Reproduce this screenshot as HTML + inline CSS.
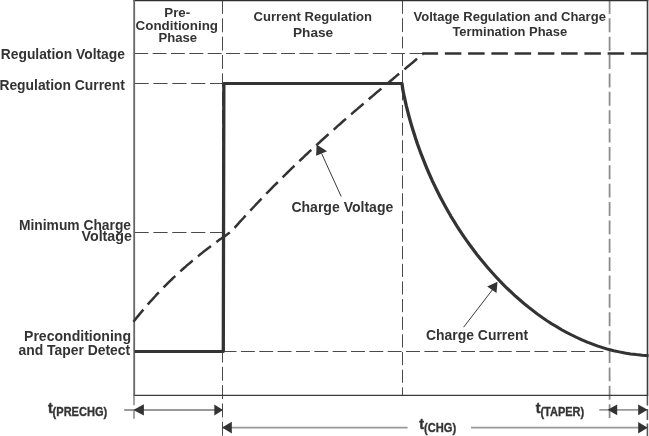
<!DOCTYPE html>
<html>
<head>
<meta charset="utf-8">
<title>Charge Profile</title>
<style>
html,body{margin:0;padding:0;background:#fff;}
body{width:649px;height:436px;overflow:hidden;}
svg{display:block;will-change:transform;transform:translateZ(0);}
text{font-family:"Liberation Sans",sans-serif;font-weight:bold;fill:#333;}
</style>
</head>
<body>
<svg width="649" height="436" viewBox="0 0 649 436">
<rect width="649" height="436" fill="#fff"/>

<!-- thin dashed guides -->
<g stroke="#4a4a4a" stroke-width="1" fill="none">
  <path d="M134.3 53.5H422" stroke-dasharray="13.9 4.45"/>
  <path d="M134.5 83.5H222.4" stroke-dasharray="14.2 4.67"/>
  <path d="M134.5 232.5H222.4" stroke-dasharray="14.2 4.67"/>
  <path d="M222.6 351.5H603.4" stroke-dasharray="13.9 4.445"/>
  <path d="M222.5 0V436" stroke-dasharray="13.9 4.44"/>
  <path d="M402.5 0V48.4" stroke-dasharray="13.8 4.5"/>
  <path d="M402.5 53.2V83" stroke-dasharray="12.9 4"/>
  <path d="M402.5 87.3V395" stroke-dasharray="13.1 4.55"/>
</g>
<path d="M609.6 0V421.5" stroke="#8c8c8c" stroke-width="1.8" fill="none" stroke-dasharray="13.9 4.47"/>

<!-- frame -->
<path d="M133.3 0.4H648.3" stroke="#2e2e2e" stroke-width="1.6" fill="none"/>
<path d="M133.4 395.4H648.2" stroke="#3a3a3a" stroke-width="1.4" fill="none"/>
<path d="M134.2 0V395.8" stroke="#666" stroke-width="1.8" fill="none"/>
<path d="M647.5 0V395.8" stroke="#3c3c3c" stroke-width="1.6" fill="none"/>
<path d="M134 396V405.2M134 411V418.7" stroke="#a0a0a0" stroke-width="1.9" fill="none"/>
<path d="M647.4 396V405.6M647.4 409V420M647.4 423.5V436" stroke="#555" stroke-width="1.5" fill="none"/>

<!-- dimension arrows -->
<g stroke="#999" stroke-width="1.8" fill="none">
  <path d="M124.2 410H222"/>
  <path d="M223 427.7H407.6M470.9 427.7H647"/>
  <path d="M599.3 409.8H647"/>
</g>
<g fill="#333">
  <path d="M133.3 410L143.9 404.3V415.6Z"/>
  <path d="M223 409.9L214.3 404.4V415.4Z"/>
  <path d="M222.1 427.6L231.8 421.8V433.4Z"/>
  <path d="M647.6 427.8L638.2 422V433.5Z"/>
  <path d="M607.6 409.8L617.2 404.4V415.3Z"/>
  <path d="M647.6 409.8L638.2 404.4V415.3Z"/>
</g>

<!-- charge voltage (thick dashed) -->
<path id="cv" d="M133.4 321.8L135.1 319.7 136.7 317.6 138.4 315.6 140.0 313.6 141.7 311.6 143.4 309.6 145.0 307.6 146.7 305.7 148.3 303.8 150.0 301.9 151.7 300.1 153.3 298.3 155.0 296.5 156.6 294.7 158.3 292.9 160.0 291.2 161.6 289.4 163.3 287.7 164.9 286.1 166.6 284.4 168.3 282.7 169.9 281.1 171.6 279.5 173.2 277.9 174.9 276.4 176.6 274.8 178.2 273.3 179.9 271.8 181.5 270.3 183.2 268.8 184.9 267.3 186.5 265.8 188.2 264.4 189.9 263.0 191.5 261.6 193.2 260.2 194.8 258.8 196.5 257.5 198.2 256.1 199.8 254.8 201.5 253.4 203.1 252.1 204.8 250.8 206.5 249.5 208.1 248.3 209.8 247.0 211.4 245.7 213.1 244.5 214.8 243.3 216.4 242.0 218.1 240.8 219.7 239.6 221.4 238.4 223.1 237.2 224.7 236.1 226.4 234.9 228.0 233.7 229.7 232.6 231.4 231.4 233.3 229.2 235.2 227.1 237.2 224.9 239.1 222.7 241.0 220.6 243.0 218.5 244.9 216.4 246.8 214.3 248.8 212.2 250.7 210.1 252.7 208.0 254.6 206.0 256.5 203.9 258.5 201.9 260.4 199.8 262.3 197.8 264.3 195.8 266.2 193.8 268.1 191.8 270.1 189.9 272.0 187.9 273.9 185.9 275.9 184.0 277.8 182.1 279.8 180.1 281.7 178.2 283.6 176.3 285.6 174.4 287.5 172.5 289.4 170.6 291.4 168.7 293.3 166.9 295.2 165.0 297.2 163.2 299.1 161.3 301.0 159.5 303.0 157.7 304.9 155.8 306.9 154.0 308.8 152.2 310.7 150.4 312.7 148.6 314.6 146.9 316.5 145.1 318.5 143.3 320.4 141.5 322.3 139.8 324.3 138.0 326.2 136.3 328.1 134.5 330.1 132.8 332.0 131.1 334.0 129.4 335.9 127.7 337.8 125.9 339.8 124.2 341.7 122.5 343.6 120.8 345.6 119.1 347.5 117.5 349.4 115.8 351.4 114.1 353.3 112.4 355.2 110.8 357.2 109.1 359.1 107.4 361.1 105.8 363.0 104.1 364.9 102.5 366.9 100.8 368.8 99.2 370.7 97.5 372.7 95.9 374.6 94.3 376.5 92.6 378.5 91.0 380.4 89.4 382.3 87.8 384.3 86.1 386.2 84.5 388.2 82.9 390.1 81.3 392.0 79.7 394.0 78.0 395.9 76.4 397.8 74.8 399.8 73.2 401.7 71.6 403.6 70.0 405.6 68.4 407.5 66.8 409.4 65.2 411.4 63.6 413.3 62.0 415.3 60.3 417.2 58.7 419.1 57.1 421.1 55.5 423.0 53.9 423 53.5H647.4"
  stroke="#333" stroke-width="2.5" fill="none" stroke-dasharray="16.5 6.75" stroke-dashoffset="0.8" stroke-linejoin="round"/>

<!-- charge current (thick solid) -->
<g transform="scale(1.1 1)"><path id="cc" d="M122.27 351.4H203.00L203.50 83.4H365.45L366.18 89.6 367.19 95.0 368.28 100.4 369.37 105.9 370.64 111.3 371.92 116.8 373.27 122.2 374.73 127.6 376.28 133.0 377.82 138.4 379.45 143.8 381.19 149.1 383.01 154.5 384.91 159.8 386.81 165.1 388.82 170.4 390.91 175.6 393.01 180.8 395.27 186.0 397.55 191.2 399.92 196.3 402.36 201.4 404.82 206.4 407.37 211.4 410.00 216.4 412.73 221.3 415.45 226.2 418.28 231.0 421.19 235.8 424.18 240.5 427.19 245.1 430.28 249.7 433.45 254.3 436.73 258.8 440.00 263.2 443.37 267.6 446.81 271.9 450.28 276.1 453.82 280.3 457.45 284.4 461.09 288.4 464.91 292.3 468.63 296.2 472.55 299.9 476.46 303.6 480.46 307.2 484.55 310.7 488.63 314.1 492.82 317.4 497.09 320.6 501.45 323.7 505.82 326.6 510.18 329.5 514.73 332.2 519.27 334.8 523.90 337.3 528.55 339.7 533.27 341.9 538.10 343.9 542.91 345.9 547.82 347.6 552.82 349.3 557.82 350.7 562.91 351.9 568.00 353.0 573.27 353.9 578.45 354.6 583.82 355.2 589.64 355.7"
  stroke="#333" stroke-width="3" fill="none" stroke-linejoin="round"/></g>

<!-- pointers -->
<path d="M341.2 196.5L321.6 153.5" stroke="#3a3a3a" stroke-width="1" fill="none"/>
<path d="M316.6 144.5L316.1 155.8L327.1 151.3Z" fill="#333"/>
<path d="M463.6 327.2L492.4 289.8" stroke="#3a3a3a" stroke-width="1" fill="none"/>
<path d="M497.5 281.8L487.2 286.5L496.5 293.1Z" fill="#333"/>

<!-- labels -->
<g font-size="14.7" text-anchor="end" lengthAdjust="spacingAndGlyphs">
  <text x="124.9" y="58.6" textLength="124.1" lengthAdjust="spacingAndGlyphs">Regulation Voltage</text>
  <text x="124.9" y="89.6" textLength="125.5" lengthAdjust="spacingAndGlyphs">Regulation Current</text>
  <text x="131.0" y="229.6" textLength="112.0" lengthAdjust="spacingAndGlyphs">Minimum Charge</text>
  <text x="131.9" y="240.8" textLength="50.4" lengthAdjust="spacingAndGlyphs">Voltage</text>
  <text x="131.0" y="340.5" textLength="107.0" lengthAdjust="spacingAndGlyphs">Preconditioning</text>
  <text x="130.2" y="355.3" textLength="111.7" lengthAdjust="spacingAndGlyphs">and Taper Detect</text>
  <text x="393.3" y="211.5" textLength="101.9" lengthAdjust="spacingAndGlyphs">Charge Voltage</text>
  <text x="528.1" y="339.8" textLength="102.1" lengthAdjust="spacingAndGlyphs">Charge Current</text>
</g>
<g font-size="13.6" text-anchor="middle">
  <text x="177.2" y="17.4" textLength="25.9" lengthAdjust="spacingAndGlyphs">Pre-</text>
  <text x="176.8" y="29.6" textLength="82.5" lengthAdjust="spacingAndGlyphs">Conditioning</text>
  <text x="177.8" y="42.2" textLength="38.6" lengthAdjust="spacingAndGlyphs">Phase</text>
  <text x="312.8" y="21" textLength="118.4" lengthAdjust="spacingAndGlyphs">Current Regulation</text>
  <text x="313.1" y="36.8" textLength="40.2" lengthAdjust="spacingAndGlyphs">Phase</text>
  <text x="509.7" y="20.5" textLength="192.4" lengthAdjust="spacingAndGlyphs">Voltage Regulation and Charge</text>
  <text x="509.8" y="35.7" textLength="114.8" lengthAdjust="spacingAndGlyphs">Termination Phase</text>
</g>
<g font-size="14.3" stroke="#333" stroke-width="0.45">
  <text x="47.9" y="413.2">t</text>
  <text x="419.3" y="429.4">t</text>
  <text x="535.8" y="413.2">t</text>
</g>
<g font-size="12.6" stroke="#333" stroke-width="0.35">
  <text x="52.6" y="416.3" textLength="54.6" lengthAdjust="spacingAndGlyphs">(PRECHG)</text>
  <text x="424" y="432.2" textLength="32.1" lengthAdjust="spacingAndGlyphs">(CHG)</text>
  <text x="540.4" y="416.3" textLength="43.8" lengthAdjust="spacingAndGlyphs">(TAPER)</text>
</g>
</svg>
</body>
</html>
